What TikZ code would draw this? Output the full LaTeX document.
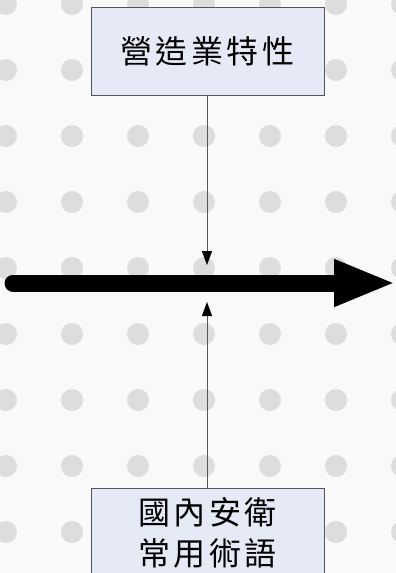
\documentclass[tikz,border=0pt]{standalone}
\usepackage{fontspec}
\usepackage{xcolor}
\usepackage{tikz}
\usetikzlibrary{positioning,calc,arrows.meta}
\newfontfamily\cjk[LetterSpace=11]{Noto Sans CJK TC}

\definecolor{boxfill}{HTML}{E6EAF6}
\definecolor{boxline}{HTML}{555555}
\definecolor{dotgray}{HTML}{DDDDDD}
\definecolor{bgpaper}{HTML}{F9F9F9}

\begin{document}
\begin{tikzpicture}[x=1pt, y=-1pt,
    topic/.style={draw=boxline, fill=boxfill, line width=1pt, minimum width=233pt,
        align=center, font=\cjk\fontsize{32}{41}\selectfont},
    feeder/.style={draw=boxline, line width=0.9pt, -{Triangle[length=14pt,width=10pt,color=black]}}]
    \useasboundingbox (0,0) rectangle (396,573);

    % Background with dots
    \fill[bgpaper] (0,0) rectangle (396,573);
    \foreach \dx in {6,72,138,204,270,336,402}
        \foreach \dy in {4,70,136,202,268,334,400,466,532}
            \fill[dotgray] (\dx,\dy) circle (11);

    % Main axis
    \coordinate (start) at (13,283);
    \coordinate (finish) at (396,283);
    \draw[line width=17pt, line cap=round, -{Triangle[length=62pt,width=43pt]}] (start) -- (finish);

    % Boxes
    \node[topic, minimum height=88pt] (trait) at (207.5,51) {營造業特性};
    \node[topic, minimum height=89pt] (terms) at (207.5,532.5) {國內安衛\\常用術語};

    % Feeding arrows
    \coordinate (hitTop) at (207,265);
    \coordinate (hitBot) at (207,302);
    \draw[feeder] (trait.south -| hitTop) -- (hitTop);
    \draw[feeder] (terms.north -| hitBot) -- (hitBot);
\end{tikzpicture}
\end{document}
